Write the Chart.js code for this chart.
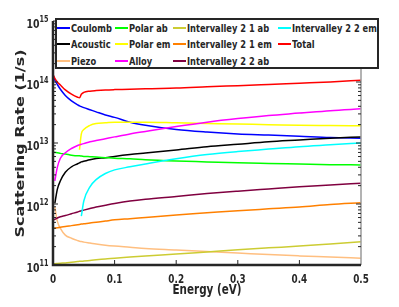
<!DOCTYPE html>
<html>
<head>
<meta charset="utf-8">
<script src="https://cdn.jsdelivr.net/npm/chart.js@4.4.1/dist/chart.umd.min.js"></script>
<style>
    body { margin: 0; background: #fff; }
    #wrap { position: relative; width: 399px; height: 307px; }
    #legenda {
        position: absolute; left: 55px; top: 18px; width: 320px; height: 47px;
        border: 2px solid #262626; background: #fff; color: #262626;
        font-family: "DejaVu Sans", sans-serif;
        font-weight: bold; font-size: 10.5px;
    }
    .linha { position: absolute; width: 13px; height: 1.5px; }
    .texto { position: absolute; white-space: nowrap; line-height: 12px; transform: scaleX(0.79); transform-origin: 0 50%; }
</style>
</head>
<body>
<div id="wrap">
    <canvas id="chartEspalhamento" width="399" height="307"></canvas>
    <div id="legenda"></div>
</div>
<script>
// energia (eV)
var energia = [0, 0.003, 0.007, 0.012, 0.02, 0.03, 0.04, 0.043, 0.046, 0.05, 0.06, 0.07, 0.085, 0.1, 0.125, 0.15, 0.2, 0.25, 0.3, 0.35, 0.4, 0.45, 0.5];

// taxas de espalhamento (1/s)
var coulomb = [1.32e14, 1.07e14, 9.1e13, 7.6e13, 6.0e13, 4.9e13, 4.22e13, 4.07e13, 3.94e13, 3.8e13, 3.51e13, 3.24e13, 2.88e13, 2.63e13, 2.19e13, 1.95e13, 1.66e13, 1.51e13, 1.41e13, 1.35e13, 1.29e13, 1.23e13, 1.2e13];
var acustico = [null, 1.02e12, 1.74e12, 2.4e12, 3.31e12, 4.07e12, 4.57e12, 4.73e12, 4.9e12, 5.01e12, 5.31e12, 5.56e12, 5.75e12, 6.03e12, 6.46e12, 6.84e12, 7.67e12, 8.71e12, 9.55e12, 1.047e13, 1.12e13, 1.2e13, 1.26e13];
var piezo = [null, 8.9e11, 5.25e11, 3.98e11, 3.09e11, 2.75e11, 2.51e11, 2.45e11, 2.43e11, 2.37e11, 2.29e11, 2.21e11, 2.11e11, 2.04e11, 1.95e11, 1.86e11, 1.76e11, 1.66e11, 1.57e11, 1.48e11, 1.41e11, 1.35e11, 1.29e11];
var polarAb = [7.08e12, 7.0e12, 6.92e12, 6.76e12, 6.61e12, 6.31e12, 6.17e12, 6.17e12, 6.1e12, 6.03e12, 5.96e12, 5.89e12, 5.75e12, 5.62e12, 5.5e12, 5.31e12, 5.07e12, 4.9e12, 4.73e12, 4.62e12, 4.52e12, 4.42e12, 4.37e12];
var polarEm = [null, null, null, null, null, null, null, 7.76e12, 1.41e13, 1.66e13, 1.95e13, 2.09e13, 2.14e13, 2.19e13, 2.19e13, 2.19e13, 2.14e13, 2.09e13, 2.04e13, 2.0e13, 1.95e13, 1.93e13, 1.91e13];
var liga = [null, 2.4e12, 3.98e12, 5.62e12, 6.92e12, 8.13e12, 9.12e12, 9.33e12, 9.55e12, 9.77e12, 1.047e13, 1.096e13, 1.175e13, 1.26e13, 1.41e13, 1.55e13, 1.86e13, 2.19e13, 2.51e13, 2.82e13, 3.09e13, 3.39e13, 3.63e13];
var iv21ab = [1.05e11, 1.05e11, 1.06e11, 1.07e11, 1.08e11, 1.11e11, 1.14e11, 1.15e11, 1.15e11, 1.16e11, 1.19e11, 1.22e11, 1.26e11, 1.29e11, 1.35e11, 1.41e11, 1.51e11, 1.64e11, 1.78e11, 1.91e11, 2.04e11, 2.21e11, 2.4e11];
var iv21em = [3.98e11, 4.03e11, 4.07e11, 4.17e11, 4.27e11, 4.42e11, 4.57e11, 4.62e11, 4.68e11, 4.73e11, 4.9e11, 5.01e11, 5.25e11, 5.5e11, 5.75e11, 6.03e11, 6.61e11, 7.16e11, 7.76e11, 8.32e11, 8.91e11, 9.77e11, 1.047e12];
var iv22ab = [5.5e11, 5.62e11, 5.89e11, 6.17e11, 6.46e11, 6.92e11, 7.41e11, 7.59e11, 7.76e11, 7.94e11, 8.41e11, 8.91e11, 9.55e11, 1.02e12, 1.12e12, 1.2e12, 1.33e12, 1.48e12, 1.62e12, 1.76e12, 1.91e12, 2.04e12, 2.19e12];
var iv22em = [null, null, null, null, null, null, null, null, 6.31e11, 1.12e12, 1.91e12, 2.51e12, 3.16e12, 3.63e12, 4.07e12, 4.52e12, 5.5e12, 6.46e12, 7.24e12, 7.94e12, 8.71e12, 9.33e12, 1.0e13];
var total = [1.32e14, 1.15e14, 1.0e14, 8.91e13, 7.41e13, 6.31e13, 5.62e13, 5.5e13, 6.31e13, 6.76e13, 7.08e13, 7.24e13, 7.41e13, 7.5e13, 7.59e13, 7.76e13, 7.94e13, 8.32e13, 8.71e13, 9.12e13, 9.55e13, 1.0e14, 1.07e14];

var nomes = ['Coulomb', 'Acoustic', 'Piezo', 'Polar ab', 'Polar em', 'Alloy', 'Intervalley 2 1 ab', 'Intervalley 2 1 em', 'Intervalley 2 2 ab', 'Intervalley 2 2 em', 'Total'];
var series = [coulomb, acustico, piezo, polarAb, polarEm, liga, iv21ab, iv21em, iv22ab, iv22em, total];
var cores = ['#0000ff', '#000000', '#ffbf80', '#00ff00', '#ffff00', '#ff00ff', '#cccc33', '#ff8000', '#800040', '#00ffff', '#ff0000'];

// ticks
var xTicks = [0, 0.1, 0.2, 0.3, 0.4, 0.5];
var xTickLabels = ['0', '0.1', '0.2', '0.3', '0.4', '0.5'];
var yExpoentes = [11, 12, 13, 14, 15];
var yTickLabels = ['11', '12', '13', '14', '15'];

var corEixo = '#262626';

function textoEspremido(ctx, txt, x, y, fonte, sx, alinhamento) {
    ctx.save();
    ctx.translate(x, y);
    ctx.scale(sx, 1);
    ctx.font = fonte;
    ctx.textAlign = alinhamento;
    ctx.textBaseline = 'alphabetic';
    ctx.fillText(txt, 0, 0);
    ctx.restore();
}

var pluginEixos = {
    id: 'eixos',
    afterDatasetsDraw(chart) {
        const ctx = chart.ctx;
        const a = chart.chartArea;
        const x = chart.scales.x;
        const y = chart.scales.y;
        ctx.save();

        // eixo da direita
        ctx.strokeStyle = '#9a9a9a';
        ctx.lineWidth = 1.5;
        ctx.beginPath(); ctx.moveTo(a.right, a.top); ctx.lineTo(a.right, a.bottom); ctx.stroke();

        // ticks do eixo y (maiores e menores)
        ctx.strokeStyle = corEixo;
        ctx.lineWidth = 1;
        for (var i = 0; i < yExpoentes.length; i++) {
            for (var m = 1; m <= 9; m++) {
                if (m > 1 && i == yExpoentes.length - 1) break;
                var py = y.getPixelForValue(m * Math.pow(10, yExpoentes[i]));
                var tam = m == 1 ? 5 : 3;
                ctx.beginPath(); ctx.moveTo(a.left, py); ctx.lineTo(a.left + tam, py); ctx.stroke();
                ctx.beginPath(); ctx.moveTo(a.right, py); ctx.lineTo(a.right - tam, py); ctx.stroke();
            }
        }
        // ticks do eixo x
        for (var j = 1; j < xTicks.length - 1; j++) {
            var px = x.getPixelForValue(xTicks[j]);
            ctx.beginPath(); ctx.moveTo(px, a.bottom); ctx.lineTo(px, a.bottom - 5); ctx.stroke();
        }

        // eixos esquerdo e inferior
        ctx.lineWidth = 2.5;
        ctx.beginPath(); ctx.moveTo(a.left, a.top); ctx.lineTo(a.left, a.bottom); ctx.lineTo(a.right, a.bottom); ctx.stroke();

        // rotulos
        ctx.fillStyle = corEixo;
        for (var j = 0; j < xTicks.length; j++) {
            textoEspremido(ctx, xTickLabels[j], x.getPixelForValue(xTicks[j]), a.bottom + 17.5, 'bold 13px "DejaVu Sans"', 0.68, 'center');
        }
        for (var i = 0; i < yExpoentes.length; i++) {
            var py = y.getPixelForValue(Math.pow(10, yExpoentes[i]));
            ctx.font = 'bold 9px "DejaVu Sans"';
            var larguraExp = ctx.measureText(yTickLabels[i]).width * 0.72;
            textoEspremido(ctx, yTickLabels[i], 48.5, py + 1, 'bold 9px "DejaVu Sans"', 0.72, 'right');
            textoEspremido(ctx, '10', 48.5 - larguraExp, py + 7, 'bold 13px "DejaVu Sans"', 0.72, 'right');
        }

        // titulos
        textoEspremido(ctx, 'Energy (eV)', (a.left + a.right) / 2, 293.5, 'bold 14.5px "DejaVu Sans"', 0.716, 'center');
        ctx.save();
        ctx.translate(24, 143.5);
        ctx.scale(0.8, 1);
        ctx.rotate(-Math.PI / 2);
        ctx.font = 'bold 16px "DejaVu Sans"';
        ctx.textAlign = 'center';
        ctx.textBaseline = 'alphabetic';
        ctx.fillText('Scattering Rate (1/s)', 0, 0);
        ctx.restore();

        ctx.restore();
    }
};

var conjuntos = [];
for (var i = 0; i < series.length; i++) {
    var pontos = [];
    for (var j = 0; j < energia.length; j++) {
        pontos.push({ x: energia[j], y: series[i][j] });
    }
    conjuntos.push({
        label: nomes[i],
        data: pontos,
        borderColor: cores[i],
        backgroundColor: cores[i],
        borderWidth: 1.5,
        pointRadius: 0,
        fill: false,
        cubicInterpolationMode: 'monotone',
        order: series.length - i
    });
}

var configuracao = {
    type: 'line',
    data: { datasets: conjuntos },
    options: {
        responsive: false,
        animation: false,
        layout: { padding: { left: 53, right: 38, top: 21, bottom: 42 } },
        scales: {
            x: { type: 'linear', min: 0, max: 0.5, display: false },
            y: { type: 'logarithmic', min: 1e11, max: 1e15, display: false }
        },
        plugins: {
            legend: { display: false },
            tooltip: { enabled: false }
        }
    },
    plugins: [pluginEixos]
};

var chartEspalhamento = new Chart(document.getElementById('chartEspalhamento'), configuracao);

// legenda em 4 colunas, preenchida por coluna
var legenda = document.getElementById('legenda');
var colunasX = [0, 58, 116, 221];
var linhasY = [8, 24, 41];
for (var i = 0; i < nomes.length; i++) {
    var col = Math.floor(i / 3);
    var lin = i % 3;
    var traco = document.createElement('div');
    traco.className = 'linha';
    traco.style.background = cores[i];
    traco.style.left = colunasX[col] + 'px';
    traco.style.top = (linhasY[lin] - 0.75) + 'px';
    legenda.appendChild(traco);
    var txt = document.createElement('div');
    txt.className = 'texto';
    txt.textContent = nomes[i];
    txt.style.left = (colunasX[col] + 14) + 'px';
    txt.style.top = (linhasY[lin] - 6) + 'px';
    legenda.appendChild(txt);
}
</script>
</body>
</html>
